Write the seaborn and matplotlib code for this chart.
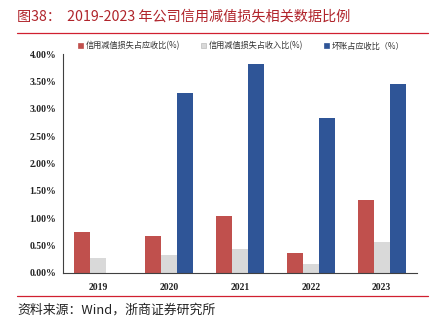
import matplotlib
matplotlib.use("Agg")
import matplotlib.pyplot as plt
import seaborn as sns
import pandas as pd
from matplotlib.lines import Line2D
from matplotlib.ticker import FuncFormatter, FixedLocator

years = ["2019", "2020", "2021", "2022", "2023"]
series_names = ["信用减值损失占应收比(%)", "信用减值损失占收入比(%)", "坏账占应收比（%）"]
credit_loss_to_receivables = [0.74, 0.68, 1.05, 0.37, 1.33]
credit_loss_to_revenue = [0.27, 0.32, 0.44, 0.16, 0.57]
bad_debt_to_receivables = [0.00, 3.29, 3.81, 2.83, 3.46]
colors = ["#C0504D", "#D9D9D9", "#2F5597"]
yticks = [0, 0.5, 1.0, 1.5, 2.0, 2.5, 3.0, 3.5, 4.0]

rows = []
for name, vals in zip(series_names, [credit_loss_to_receivables, credit_loss_to_revenue, bad_debt_to_receivables]):
    for y, v in zip(years, vals):
        rows.append({"year": y, "series": name, "value": v})
df = pd.DataFrame(rows)

sns.set_theme(style="white")
plt.rcParams['font.family'] = ['Noto Sans CJK SC', 'DejaVu Sans']

fig = plt.figure(figsize=(4.41, 3.23), dpi=100)
ax = fig.add_axes([63/441, 1-273/323, (417-63)/441, (273-54)/323])

sns.barplot(data=df, x="year", y="value", hue="series", palette=colors,
            saturation=1, width=0.68, ax=ax, legend=False, edgecolor="none")

ax.set_ylim(0, 4.0)
ax.set_xlim(-0.5, 4.5)
ax.set_yticks(yticks)
ax.yaxis.set_major_formatter(FuncFormatter(lambda v, p: f"{v:.2f}%"))
ax.set_xlabel("")
ax.set_ylabel("")
for s in ["top", "right"]:
    ax.spines[s].set_visible(False)
for s in ["left", "bottom"]:
    ax.spines[s].set_color("#404040")
    ax.spines[s].set_linewidth(0.8)
ax.tick_params(axis="y", direction="out", length=3, width=0.8, color="#404040", pad=2)
ax.tick_params(axis="x", which="major", length=0, pad=7)
ax.xaxis.set_minor_locator(FixedLocator([i - 0.5 for i in range(len(years) + 1)]))
ax.tick_params(axis="x", which="minor", direction="out", length=3, width=0.8, color="#404040")
for lab in ax.get_yticklabels() + ax.get_xticklabels():
    lab.set_fontfamily("Liberation Serif")
    lab.set_fontweight("bold")
    lab.set_fontsize(7)
    lab.set_color("#222222")

handles = [plt.Rectangle((0, 0), 1, 1, facecolor=c, edgecolor="#BBBBBB" if i == 1 else c, linewidth=0.5)
           for i, c in enumerate(colors)]
fig.legend(handles, series_names, loc="center", bbox_to_anchor=(0.547, 1-46/323), ncol=3,
           frameon=False, fontsize=5.9, handlelength=0.6, handleheight=0.6, handletextpad=0.3,
           columnspacing=2.6, labelcolor="#333333")

fig.text(17/441, 1-16/323, "图38：  2019-2023 年公司信用减值损失相关数据比例", color="#B0242B",
         fontsize=10.2, va="center", ha="left")
fig.add_artist(Line2D([17/441, 428/441], [1-33/323, 1-33/323], transform=fig.transFigure,
                      color="#D02030", linewidth=0.9))
fig.add_artist(Line2D([17/441, 428/441], [1-296/323, 1-296/323], transform=fig.transFigure,
                      color="#D02030", linewidth=0.9))
fig.text(17/441, 1-310/323, "资料来源：Wind，浙商证券研究所", color="#222222",
         fontsize=9.3, va="center", ha="left")

fig.savefig("out.png", dpi=100)
